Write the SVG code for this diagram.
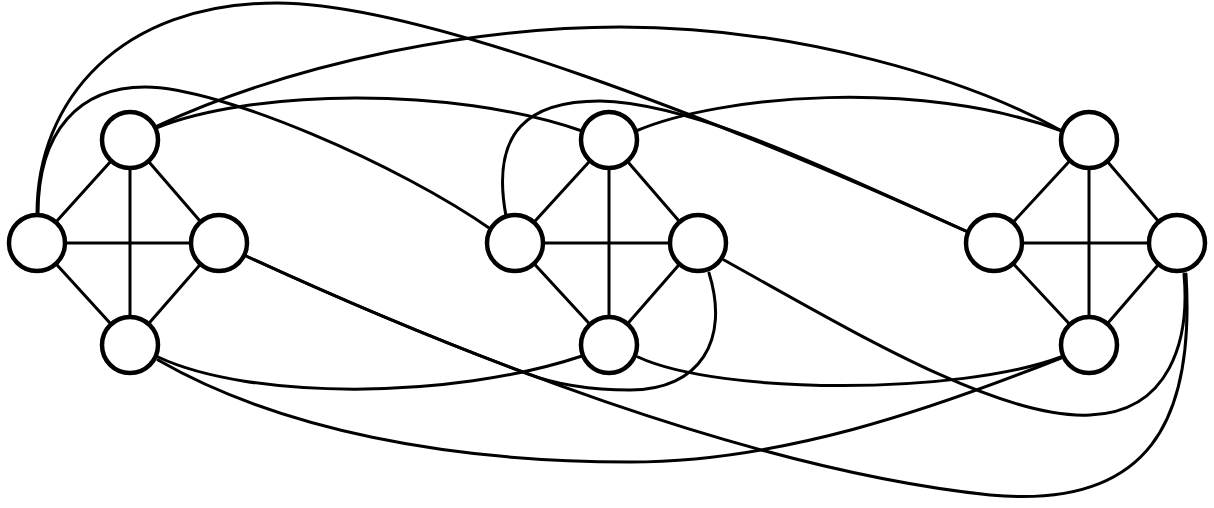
<svg xmlns="http://www.w3.org/2000/svg" width="1214" height="508" viewBox="0 0 1214 508">
<style>
.e{fill:none;stroke:#000;stroke-width:3;stroke-linecap:round}
.n{fill:#fff;stroke:#000;stroke-width:4.5}
</style>
<rect width="1214" height="508" fill="#fff"/>
<g id="connectors">
<!-- group 1 internal -->
<path class="e" d="M130,140 L37,243 M130,140 L219,243 M130,140 L130,345 M37,243 L219,243 M37,243 L130,345 M219,243 L130,345"/>
<!-- group 2 internal -->
<path class="e" d="M609,140 L515,243 M609,140 L698,243 M609,140 L609,345 M515,243 L698,243 M515,243 L609,345 M698,243 L609,345"/>
<!-- group 3 internal -->
<path class="e" d="M1089,140 L994,243 M1089,140 L1177,243 M1089,140 L1089,345 M994,243 L1177,243 M994,243 L1089,345 M1177,243 L1089,345"/>
<!-- top external -->
<path id="L1-L3" class="e" d="M37,214 C37,100 120,3 277,3 C420,3 720,120 968,232"/>
<path id="L1-L2" class="e" d="M38,214 C38,130 80,87 145,87 C220,87 400,165 492,230"/>
<path id="L2-L3" class="e" d="M506,216 C490,130 530,101 600,101 C700,103 850,180 968,232"/>
<path id="T1-T2" class="e" d="M156,128 C250,90 450,85 582,131"/>
<path id="T1-T3" class="e" d="M157,126 C300,60 480,27 620,27 C800,27 970,80 1062,131"/>
<path id="T2-T3" class="e" d="M636,131 C720,95 920,78 1062,131"/>
<!-- bottom external -->
<path id="R1-R2" class="e" d="M246,256 C327.6,293.6 424.6,335.4 526.9,373.6 C560,386 600,390 630,390 C700,390 730,340 709,273"/>
<path id="R1-R3" class="e" d="M246,256 C450,350 750,470 990,495 C1150,510 1195,420 1186,274"/>
<path id="R2-R3" class="e" d="M724,260 C850,330 1000,420 1090,415 C1170,412 1190,340 1184,274"/>
<path id="B1-B2" class="e" d="M158,357 C250,400 450,400 582,356"/>
<path id="B1-B3" class="e" d="M158,360 C280,430 450,462 630,462 C780,462 930,410 1061,358"/>
<path id="B2-B3" class="e" d="M638,357 C720,395 960,395 1061,357"/>
</g>
<g id="g1-top"><circle class="n" cx="130" cy="140" r="28"/></g>
<g id="g1-left"><circle class="n" cx="37" cy="243" r="28"/></g>
<g id="g1-right"><circle class="n" cx="219" cy="243" r="28"/></g>
<g id="g1-bottom"><circle class="n" cx="130" cy="345" r="28"/></g>
<g id="g2-top"><circle class="n" cx="609" cy="140" r="28"/></g>
<g id="g2-left"><circle class="n" cx="515" cy="243" r="28"/></g>
<g id="g2-right"><circle class="n" cx="698" cy="243" r="28"/></g>
<g id="g2-bottom"><circle class="n" cx="609" cy="345" r="28"/></g>
<g id="g3-top"><circle class="n" cx="1089" cy="140" r="28"/></g>
<g id="g3-left"><circle class="n" cx="994" cy="243" r="28"/></g>
<g id="g3-right"><circle class="n" cx="1177" cy="243" r="28"/></g>
<g id="g3-bottom"><circle class="n" cx="1089" cy="345" r="28"/></g>
</svg>
